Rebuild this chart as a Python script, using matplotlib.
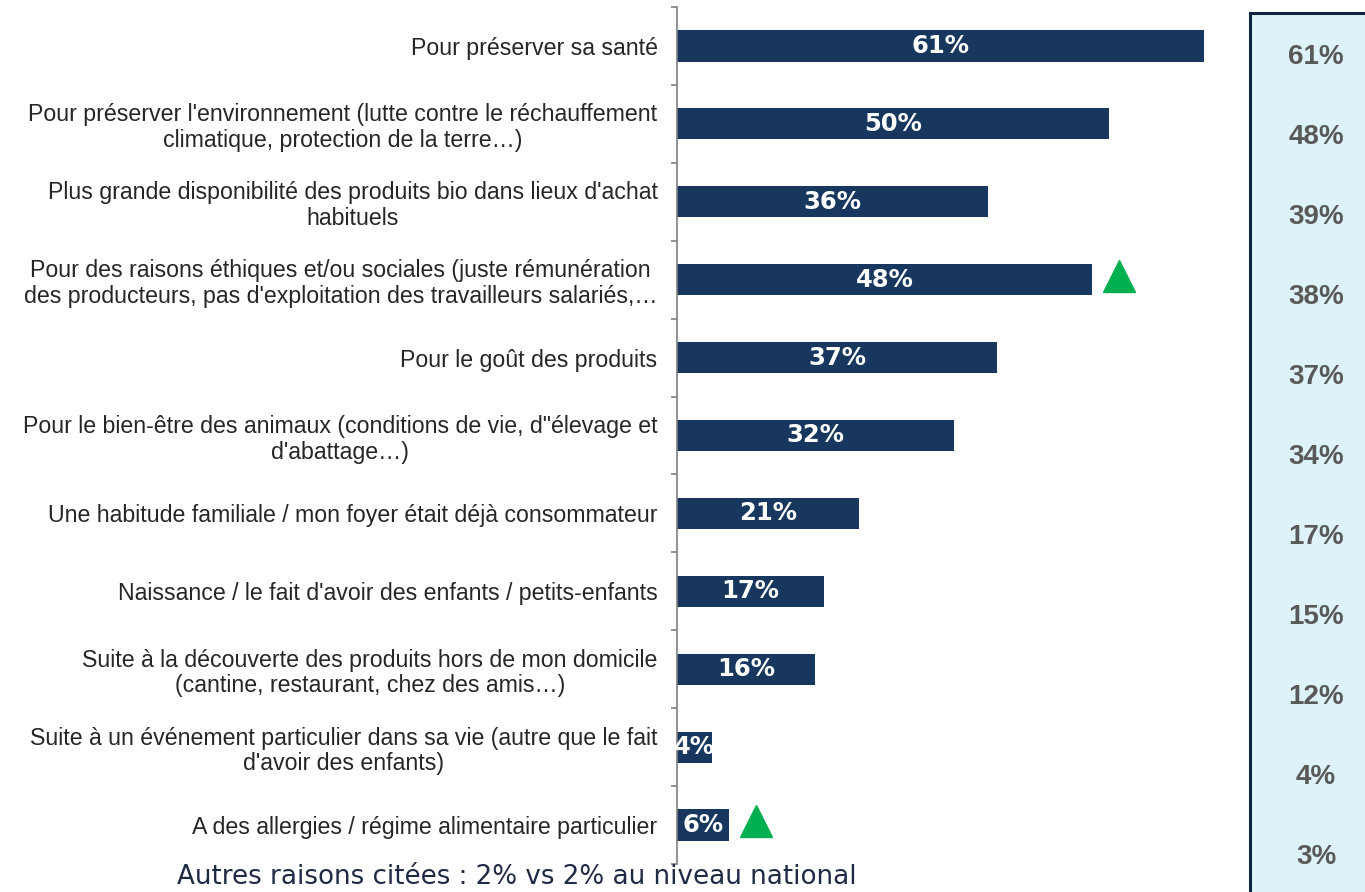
import matplotlib.pyplot as plt

categories = [
    "Pour préserver sa santé",
    "Pour préserver l'environnement (lutte contre le réchauffement\nclimatique, protection de la terre…)",
    "Plus grande disponibilité des produits bio dans lieux d'achat\nhabituels",
    "Pour des raisons éthiques et/ou sociales (juste rémunération\ndes producteurs, pas d'exploitation des travailleurs salariés,…",
    "Pour le goût des produits",
    "Pour le bien-être des animaux (conditions de vie, d\"élevage et\nd'abattage…)",
    "Une habitude familiale / mon foyer était déjà consommateur",
    "Naissance / le fait d'avoir des enfants / petits-enfants",
    "Suite à la découverte des produits hors de mon domicile\n(cantine, restaurant, chez des amis…)",
    "Suite à un événement particulier dans sa vie (autre que le fait\nd'avoir des enfants)",
    "A des allergies / régime alimentaire particulier",
]
local_values = [61, 50, 36, 48, 37, 32, 21, 17, 16, 4, 6]
national_values = [61, 48, 39, 38, 37, 34, 17, 15, 12, 4, 3]
significant_up = [False, False, False, True, False, False, False, False, False, False, True]
footnote = "Autres raisons citées : 2% vs 2% au niveau national"

bar_color = "#17375E"
green = "#00B050"

fig = plt.figure(figsize=(13.65, 8.92), dpi=100)
ax = fig.add_axes([677 / 1365, 28 / 892, 562 / 1365, 857 / 892])

n = len(categories)
ypos = list(range(n))
bars = ax.barh(ypos, local_values, height=0.4, color=bar_color)

for bar, val in zip(bars, local_values):
    t = ax.text(val / 2, bar.get_y() + bar.get_height() / 2, f"{val}%",
                ha="center", va="center", color="white", fontsize=17.5,
                fontweight="bold", family="DejaVu Sans")
    t.set_clip_path(bar)

for i, (val, up) in enumerate(zip(local_values, significant_up)):
    if up:
        ax.plot(val + 3.1, i - 0.05, marker="^", color=green, markersize=23,
                linestyle="none", clip_on=False)

ax.set_xlim(0, 65)
ax.set_ylim(n - 0.5, -0.5)
ax.set_yticks(ypos)
ax.set_yticklabels(categories, fontsize=16.7, family="Liberation Sans",
                   color="#262626", linespacing=1.15)
for lab in ax.get_yticklabels():
    lab.set_multialignment("center")
ax.set_yticks([i - 0.5 for i in range(n + 1)], minor=True)
ax.tick_params(axis="y", which="major", length=0, pad=14)
ax.tick_params(axis="y", which="minor", length=4, color="#7F7F7F", width=1.2)
ax.xaxis.set_visible(False)
for s in ["top", "right", "bottom"]:
    ax.spines[s].set_visible(False)
ax.spines["left"].set_color("#7F7F7F")
ax.spines["left"].set_linewidth(1.2)

fig.text(517 / 1365, 1 - 877 / 892, footnote, ha="center", va="center",
         fontsize=18.8, family="DejaVu Sans", color="#1F2A44")

# panel national
ax2 = fig.add_axes([1250 / 1365, 0, 120 / 1365, 879 / 892])
ax2.set_facecolor("#DEF3F9")
ax2.set_xlim(0, 1)
ax2.set_ylim((892 - 57) / 80, (13 - 57) / 80)
ax2.set_xticks([])
ax2.set_yticks([])
for s in ["right", "bottom"]:
    ax2.spines[s].set_visible(False)
for s in ["left", "top"]:
    ax2.spines[s].set_color("#0F243E")
    ax2.spines[s].set_linewidth(2.2)
for i, val in enumerate(national_values):
    ax2.text(0.55, i, f"{val}%", ha="center", va="center", fontsize=20,
             fontweight="bold", family="Liberation Sans", color="#595959")

fig.savefig("out.png", dpi=100)
